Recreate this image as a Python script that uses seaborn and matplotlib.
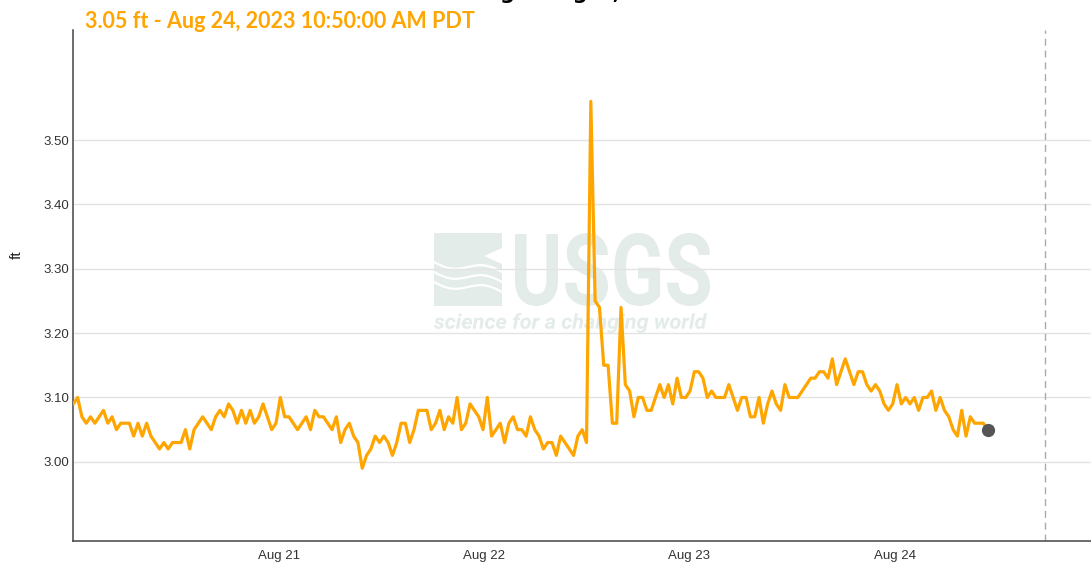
import numpy as np
import pandas as pd
import matplotlib
matplotlib.use('Agg')
import matplotlib.pyplot as plt
import matplotlib.transforms as mtransforms
from matplotlib.textpath import TextPath
from matplotlib.patches import PathPatch, Rectangle, Polygon
from matplotlib.font_manager import FontProperties
import seaborn as sns

# gage height readings (ft), every ~30 min
aug20 = [3.09, 3.10, 3.07, 3.06, 3.07, 3.06, 3.07, 3.08, 3.06, 3.07, 3.05, 3.06,
         3.06, 3.06, 3.04, 3.06, 3.04, 3.06, 3.04, 3.03, 3.02, 3.03, 3.02, 3.03,
         3.03, 3.03, 3.05, 3.02, 3.05, 3.06, 3.07, 3.06, 3.05, 3.07, 3.08, 3.07,
         3.09, 3.08, 3.06, 3.08, 3.06, 3.08, 3.06, 3.07, 3.09, 3.07, 3.05, 3.06]
aug21 = [3.10, 3.07, 3.07, 3.06, 3.05, 3.06, 3.07, 3.05, 3.08, 3.07, 3.07, 3.06,
         3.05, 3.07, 3.03, 3.05, 3.06, 3.04, 3.03, 2.99, 3.01, 3.02, 3.04, 3.03,
         3.04, 3.03, 3.01, 3.03, 3.06, 3.06, 3.03, 3.05, 3.08, 3.08, 3.08, 3.05,
         3.06, 3.08, 3.05, 3.07, 3.06, 3.10, 3.05, 3.06, 3.09, 3.08, 3.07, 3.05]
aug22 = [3.10, 3.04, 3.05, 3.06, 3.03, 3.06, 3.07, 3.05, 3.05, 3.04, 3.07, 3.05,
         3.04, 3.02, 3.03, 3.03, 3.01, 3.04, 3.03, 3.02, 3.01, 3.04, 3.05, 3.03,
         3.56, 3.25, 3.24, 3.15, 3.15, 3.06, 3.06, 3.24, 3.12, 3.11, 3.07, 3.10,
         3.10, 3.08, 3.08, 3.10, 3.12, 3.10, 3.12, 3.09, 3.13, 3.10, 3.10, 3.11]
aug23 = [3.14, 3.14, 3.13, 3.10, 3.11, 3.10, 3.10, 3.10, 3.12, 3.10, 3.08, 3.10,
         3.10, 3.07, 3.07, 3.10, 3.06, 3.09, 3.11, 3.09, 3.08, 3.12, 3.10, 3.10,
         3.10, 3.11, 3.12, 3.13, 3.13, 3.14, 3.14, 3.13, 3.16, 3.12, 3.14, 3.16,
         3.14, 3.12, 3.14, 3.14, 3.12, 3.11, 3.12, 3.11, 3.09, 3.08, 3.09, 3.12]
aug24 = [3.09, 3.10, 3.09, 3.10, 3.08, 3.10, 3.10, 3.11, 3.08, 3.10, 3.08, 3.07,
         3.05, 3.04, 3.08, 3.04, 3.07, 3.06, 3.06, 3.06, 3.05]

start_time = "2023-08-20 00:00"
last_time = "2023-08-24 10:50"
marker_time = "2023-08-24 17:30"
x_min = "2023-08-20 00:00"
x_max = "2023-08-24 22:55"

tick_days = ["2023-08-21", "2023-08-22", "2023-08-23", "2023-08-24"]
tick_labels = ["Aug 21", "Aug 22", "Aug 23", "Aug 24"]
y_ticks = [3.00, 3.10, 3.20, 3.30, 3.40, 3.50]

headline = "3.05 ft - Aug 24, 2023 10:50:00 AM PDT"
title = "Gage height, feet"

values = aug20 + aug21 + aug22 + aug23 + aug24
df = pd.DataFrame({
    "time": pd.date_range(start_time, last_time, periods=len(values)),
    "ft": values,
})

W, H = 1091, 565
sns.set_style("white")
plt.rcParams['font.family'] = ['Liberation Sans', 'DejaVu Sans']

fig = plt.figure(figsize=(W / 100, H / 100), dpi=100)
ax = fig.add_axes([73.3 / W, 24 / H, (W - 73.3) / W, 511 / H])

# USGS watermark (drawn in pixel coords, behind the grid)
wm = '#e3ece9'
ident = mtransforms.IdentityTransform()


def fit_text(s, x0, y0, x1, y1, prop):
    tp = TextPath((0, 0), s, size=50, prop=prop)
    bb = tp.get_extents()
    tr = (mtransforms.Affine2D().translate(-bb.x0, -bb.y0)
          .scale((x1 - x0) / bb.width, (y1 - y0) / bb.height)
          .translate(x0, H - y1))
    ax.add_patch(PathPatch(tr.transform_path(tp), facecolor=wm, edgecolor='none',
                           transform=ident, zorder=0))


fit_text("USGS", 515, 233, 710, 306, FontProperties(family='Roboto', weight='bold'))
fit_text("science for a changing world", 434, 313, 707, 333,
         FontProperties(family='Roboto', weight='bold', style='italic'))
ax.add_patch(Rectangle((434, H - 306), 68, 73, facecolor=wm, edgecolor='none',
                       transform=ident, zorder=0))
ax.add_patch(Polygon([(502, H - 248), (484, H - 256), (502, H - 264)], closed=True,
                     facecolor='white', edgecolor='none', transform=ident, zorder=0.1))
t = np.linspace(0, 1, 50)
for y_start in [262, 272, 282]:
    ax.plot(434 + 68 * t, H - (y_start + 10 * t + 4 * np.sin(2 * np.pi * t)),
            color='white', lw=1.6, transform=ident, zorder=0.1)

# data line
sns.lineplot(data=df, x="time", y="ft", ax=ax, color='#ffa500', linewidth=2.3,
             zorder=3)
ax.plot(df["time"].iloc[-1], df["ft"].iloc[-1], 'o', color='#555555',
        markersize=8.5, zorder=4)
ax.axvline(pd.Timestamp(marker_time), color='#aaaaaa', lw=1.0,
           linestyle=(0, (5, 3.5)), zorder=2)

ax.set_xlim(pd.Timestamp(x_min), pd.Timestamp(x_max))
ax.set_ylim(2.877, 3.671)
ax.set_xticks([pd.Timestamp(d) for d in tick_days])
ax.set_xticklabels(tick_labels)
ax.set_yticks(y_ticks)
ax.set_yticklabels([f"{v:.2f}" for v in y_ticks])

ax.set_axisbelow(True)
ax.grid(axis='y', color='#e3e3e3', lw=1.0)
ax.grid(axis='x', visible=False)
for side in ['top', 'right']:
    ax.spines[side].set_visible(False)
for side in ['left', 'bottom']:
    ax.spines[side].set_color('#444444')
    ax.spines[side].set_linewidth(1.1)

ax.tick_params(axis='x', length=4.3, width=0.9, color='#777777', pad=2,
               labelsize=9.5, labelcolor='#333333')
ax.tick_params(axis='y', length=0, pad=3, labelsize=9.5, labelcolor='#333333')

ax.set_xlabel("")
ax.set_ylabel("ft", fontsize=11, color='#222222')
ax.yaxis.set_label_coords(-0.049, 0.56)

fig.text(85 / W, 1 - 28 / H, headline, color='#ffa500', fontsize=15.5,
         fontweight='bold', family=['Lato', 'DejaVu Sans'], va='baseline')
fig.text(469 / W, 1 + 1 / H, title, color='black', fontsize=15,
         fontweight='bold', family=['DejaVu Sans'], va='baseline')

fig.savefig("out.png", dpi=100)
